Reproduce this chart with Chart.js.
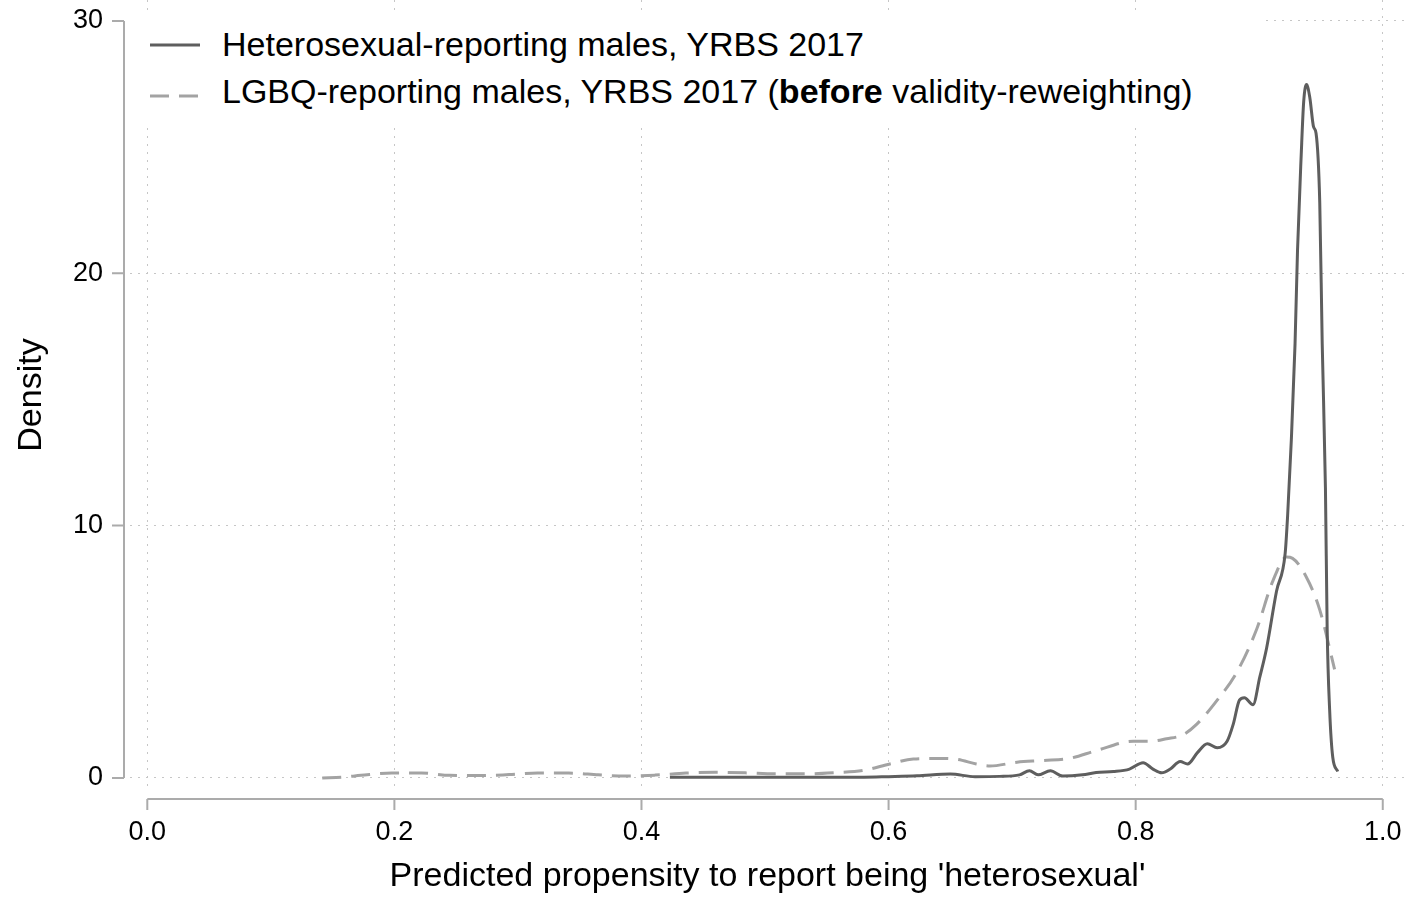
<!DOCTYPE html>
<html>
<head>
<meta charset="utf-8">
<script src="https://cdn.jsdelivr.net/npm/chart.js@4.4.1/dist/chart.umd.min.js"></script>
<style>
  body { margin: 0; background: #fff; }
  #wrap { position: relative; width: 1412px; height: 899px; font-family: "Liberation Sans", Arial, Helvetica, sans-serif; }
  #legend { position: absolute; left: 130px; top: 12px; width: 1132px; height: 113px; background: #fff; }
  #legend svg { position: absolute; left: 0; top: 0; }
  #legend .txt { position: absolute; left: 92px; font-size: 34px; line-height: 34px; color: #000; white-space: nowrap; }
</style>
</head>
<body>
<div id="wrap">
  <canvas id="densityChart" width="1412" height="899"></canvas>
  <div id="legend"></div>
</div>
<script>
// heterosexual-reporting males (solid)
const heteroX = [0.423, 0.45, 0.5, 0.55, 0.58, 0.6, 0.623, 0.65, 0.67, 0.69, 0.706, 0.714, 0.721, 0.731, 0.741,
  0.757, 0.768, 0.782, 0.795, 0.806, 0.814, 0.821, 0.828, 0.836, 0.842, 0.85, 0.858, 0.866, 0.874, 0.879,
  0.884, 0.888, 0.895, 0.9005, 0.906, 0.914, 0.921, 0.923, 0.926, 0.929, 0.931, 0.934, 0.936, 0.9383,
  0.941, 0.944, 0.946, 0.949, 0.951, 0.9536, 0.955, 0.957, 0.9595, 0.9636];
const heteroY = [0.03, 0.03, 0.03, 0.03, 0.03, 0.05, 0.08, 0.15, 0.05, 0.06, 0.12, 0.28, 0.12, 0.28, 0.07,
  0.12, 0.21, 0.25, 0.35, 0.6, 0.35, 0.2, 0.35, 0.65, 0.55, 1.0, 1.35, 1.19, 1.45, 2.13,
  3.08, 3.18, 2.9, 4.0, 5.15, 7.4, 8.9, 10.4, 13.4, 17.2, 20.9, 24.7, 26.8, 27.48,
  26.95, 25.8, 25.55, 22.8, 17.2, 11.5, 5.9, 2.7, 0.83, 0.25];

// LGBQ-reporting males (dashed)
const lgbqX = [0.1416, 0.158, 0.173, 0.198, 0.222, 0.245, 0.27, 0.293, 0.316, 0.341, 0.365, 0.386, 0.411,
  0.436, 0.46, 0.484, 0.508, 0.533, 0.557, 0.58, 0.601, 0.62, 0.639, 0.655, 0.671, 0.682, 0.704, 0.725,
  0.747, 0.768, 0.798, 0.812, 0.825, 0.838, 0.8495, 0.866, 0.882, 0.898, 0.911, 0.922, 0.927, 0.938,
  0.949, 0.961];
const lgbqY = [0.0, 0.03, 0.1, 0.19, 0.19, 0.1, 0.09, 0.13, 0.19, 0.19, 0.12, 0.07, 0.11,
  0.19, 0.22, 0.2, 0.16, 0.16, 0.21, 0.3, 0.55, 0.75, 0.77, 0.74, 0.55, 0.47, 0.62, 0.69,
  0.78, 1.08, 1.45, 1.45, 1.55, 1.7, 2.13, 3.08, 4.2, 5.9, 7.8, 8.75, 8.7, 7.97,
  6.66, 4.3];

const xTicks = [0, 0.2, 0.4, 0.6, 0.8, 1.0];
const yTicks = [0, 10, 20, 30];

const heteroLabel = ['Heterosexual-reporting males, YRBS 2017'];
const lgbqLabel = ['LGBQ-reporting males, YRBS 2017 (', 'before', ' validity-reweighting)'];
const xTitle = "Predicted propensity to report being 'heterosexual'";
const yTitle = 'Density';

const solidColor = '#5e5e5e';
const dashColor = '#a3a3a3';
const axisColor = '#ababab';
const gridColor = '#c6c6c6';
const fontFamily = '"Liberation Sans", Arial, Helvetica, sans-serif';

function toPoints(xs, ys) {
  return xs.map((x, i) => ({ x: x, y: ys[i] }));
}

// keep the tick-label padding from shrinking the plot region
function noEdgePadding(s) {
  s.paddingTop = 0;
  s.paddingBottom = 0;
  s.paddingLeft = 0;
  s.paddingRight = 0;
}

// stata-style axis lines, pulled off the plot region
const axisLines = {
  id: 'axisLines',
  afterDraw(chart) {
    const { ctx, chartArea, scales: { x, y } } = chart;
    ctx.save();
    ctx.strokeStyle = axisColor;
    ctx.lineWidth = 2;
    ctx.beginPath();
    const ax = chartArea.left - 6;
    ctx.moveTo(ax, y.getPixelForValue(yTicks[0]));
    ctx.lineTo(ax, y.getPixelForValue(yTicks[yTicks.length - 1]));
    yTicks.forEach(v => {
      const py = y.getPixelForValue(v);
      ctx.moveTo(ax - 12, py);
      ctx.lineTo(ax, py);
    });
    const ay = chartArea.bottom + 9;
    ctx.moveTo(x.getPixelForValue(xTicks[0]), ay);
    ctx.lineTo(x.getPixelForValue(xTicks[xTicks.length - 1]), ay);
    xTicks.forEach(v => {
      const px = x.getPixelForValue(v);
      ctx.moveTo(px, ay);
      ctx.lineTo(px, ay + 11);
    });
    ctx.stroke();
    ctx.restore();
  }
};

const ctx = document.getElementById('densityChart').getContext('2d');

new Chart(ctx, {
  type: 'line',
  data: {
    datasets: [
      {
        label: heteroLabel.join(''),
        data: toPoints(heteroX, heteroY),
        borderColor: solidColor,
        borderWidth: 3,
        pointRadius: 0,
        fill: false,
        cubicInterpolationMode: 'monotone',
        order: 0
      },
      {
        label: lgbqLabel.join(''),
        data: toPoints(lgbqX, lgbqY),
        borderColor: dashColor,
        borderWidth: 3,
        borderDash: [19, 10],
        pointRadius: 0,
        fill: false,
        cubicInterpolationMode: 'monotone',
        order: 1
      }
    ]
  },
  options: {
    responsive: false,
    animation: false,
    devicePixelRatio: 1,
    layout: { padding: { left: 0, right: 7, top: 0, bottom: 0 } },
    plugins: { legend: { display: false }, tooltip: { enabled: false } },
    scales: {
      x: {
        type: 'linear',
        min: -0.014,
        max: 1.018,
        afterBuildTicks: s => { s.ticks = xTicks.map(v => ({ value: v })); },
        afterFit: s => { s.height = 109; noEdgePadding(s); },
        grid: { color: gridColor, lineWidth: 1, drawTicks: false },
        border: { display: false, dash: [2, 6] },
        ticks: {
          padding: 26,
          color: '#000',
          autoSkip: false,
          maxRotation: 0,
          font: { size: 27, family: fontFamily },
          callback: v => Number(v).toFixed(1)
        },
        title: {
          display: true,
          text: xTitle,
          color: '#000',
          font: { size: 34, family: fontFamily },
          padding: { top: 0, bottom: 2 }
        }
      },
      y: {
        min: -0.48,
        max: 30.83,
        afterBuildTicks: s => { s.ticks = yTicks.map(v => ({ value: v })); },
        afterFit: s => { s.width = 130; noEdgePadding(s); },
        grid: { color: gridColor, lineWidth: 1, drawTicks: false },
        border: { display: false, dash: [2, 6] },
        ticks: {
          padding: 27,
          color: '#000',
          font: { size: 27, family: fontFamily },
          callback: v => String(v)
        },
        title: {
          display: true,
          text: yTitle,
          color: '#000',
          font: { size: 34, family: fontFamily },
          padding: { top: 11, bottom: 0 }
        }
      }
    }
  },
  plugins: [axisLines]
});

// legend with a bold word, built as html over the canvas
const legend = document.getElementById('legend');
legend.innerHTML =
  '<svg width="1132" height="113">' +
  '<line x1="20" y1="33" x2="70" y2="33" stroke="' + solidColor + '" stroke-width="3"/>' +
  '<line x1="20" y1="84" x2="70" y2="84" stroke="' + dashColor + '" stroke-width="3" stroke-dasharray="19 10"/>' +
  '</svg>' +
  '<div class="txt" style="top:15px">' + heteroLabel[0] + '</div>' +
  '<div class="txt" style="top:62px">' + lgbqLabel[0] + '<b>' + lgbqLabel[1] + '</b>' + lgbqLabel[2] + '</div>';
</script>
</body>
</html>
